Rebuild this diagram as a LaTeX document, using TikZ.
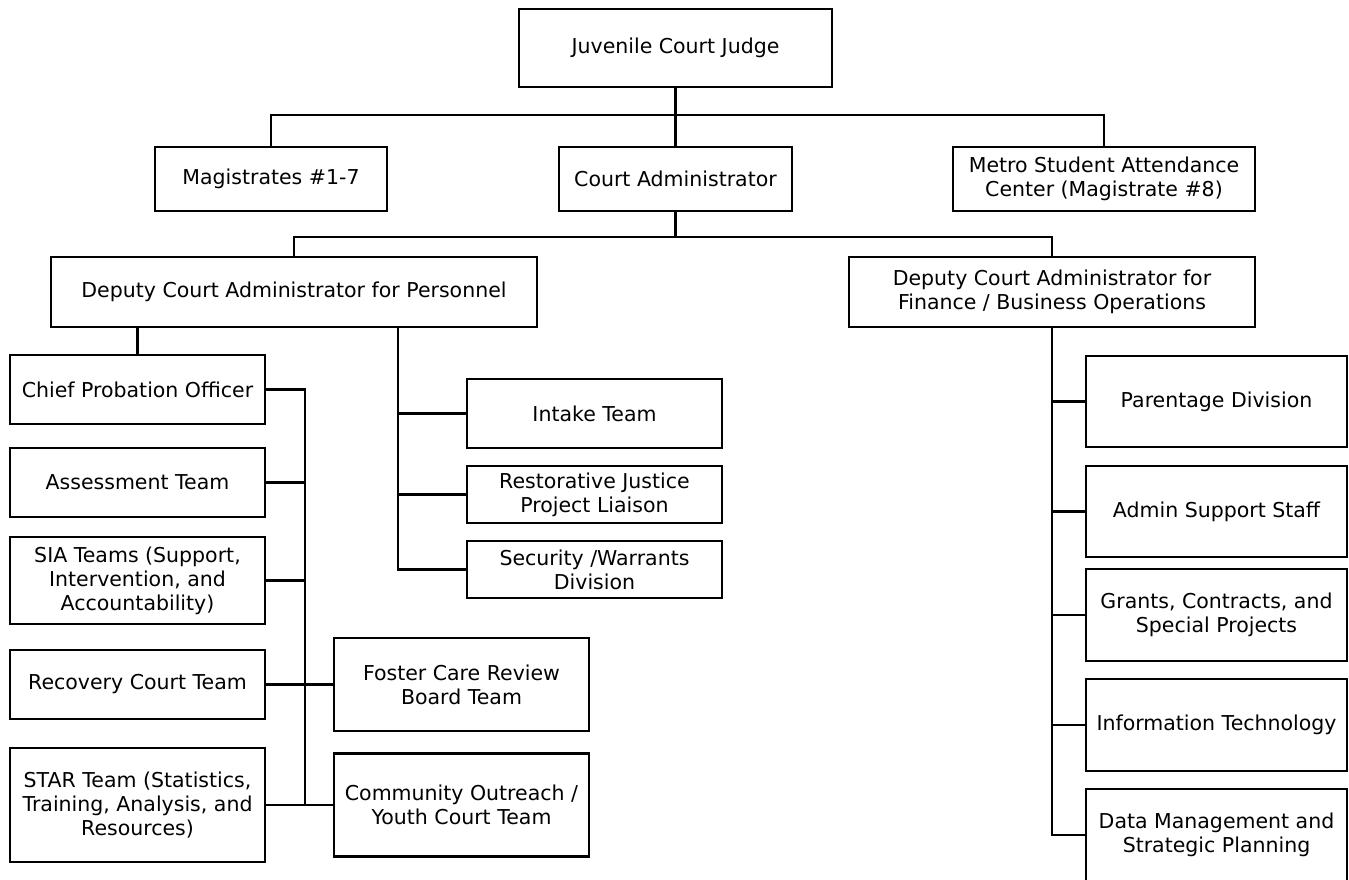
\documentclass[tikz,border=0pt]{standalone}
\usepackage{fontspec}
\setmainfont{DejaVu Sans}
\begin{document}
\begin{tikzpicture}[x=1pt,y=-1pt,
  box/.style={draw=black, line width=2.4pt, fill=white, inner sep=0pt,
    align=center, font=\fontsize{20.5}{24}\selectfont},
  link/.style={draw=black, line width=2.4pt}]
\useasboundingbox (0,0) rectangle (1349,880);

% top level
\node[box, minimum width=313pt, minimum height=78pt] (judge) at (675.5,48) {Juvenile Court Judge};
\node[box, minimum width=232pt, minimum height=64pt] (mag) at (271,179) {Magistrates \#1-7};
\node[box, minimum width=233pt, minimum height=64pt] (cadm) at (675.5,179) {Court Administrator};
\node[box, minimum width=302pt, minimum height=64pt] (metro) at (1104,179) {Metro Student Attendance\\Center (Magistrate \#8)};

% deputies
\node[box, minimum width=486pt, minimum height=70pt] (dpers) at (294,292) {Deputy Court Administrator for Personnel};
\node[box, minimum width=406pt, minimum height=70pt] (dfin) at (1052,292) {Deputy Court Administrator for\\Finance / Business Operations};

% probation column
\node[box, minimum width=255pt, minimum height=69pt] (chief) at (137.5,389.5) {Chief Probation Officer};
\node[box, minimum width=255pt, minimum height=69pt] (assess) at (137.5,482.5) {Assessment Team};
\node[box, minimum width=255pt, minimum height=87pt] (sia) at (137.5,580.5) {SIA Teams (Support,\\Intervention, and\\Accountability)};
\node[box, minimum width=255pt, minimum height=69pt] (recov) at (137.5,684.5) {Recovery Court Team};
\node[box, minimum width=255pt, minimum height=114pt] (star) at (137.5,805) {STAR Team (Statistics,\\Training, Analysis, and\\Resources)};
\node[box, minimum width=255pt, minimum height=93pt] (foster) at (461.5,684.5) {Foster Care Review\\Board Team};
\node[box, minimum width=255pt, minimum height=103pt] (comm) at (461.5,805) {Community Outreach /\\Youth Court Team};

% personnel teams
\node[box, minimum width=255pt, minimum height=69pt] (intake) at (594.5,413.5) {Intake Team};
\node[box, minimum width=255pt, minimum height=57pt] (restor) at (594.5,494.5) {Restorative Justice\\Project Liaison};
\node[box, minimum width=255pt, minimum height=57pt] (secur) at (594.5,569.5) {Security /Warrants\\Division};

% finance teams
\node[box, minimum width=261pt, minimum height=91pt] (parent) at (1216.5,401.5) {Parentage Division};
\node[box, minimum width=261pt, minimum height=91pt] (admsup) at (1216.5,511.5) {Admin Support Staff};
\node[box, minimum width=261pt, minimum height=92pt] (grants) at (1216.5,615) {Grants, Contracts, and\\Special Projects};
\node[box, minimum width=261pt, minimum height=92pt] (infotech) at (1216.5,725) {Information Technology};
\node[box, minimum width=261pt, minimum height=92pt] (datamgmt) at (1216.5,835) {Data Management and\\Strategic Planning};

% junction points
\coordinate (b1) at (675.5,115);
\coordinate (b2) at (675.5,237);
\coordinate (ps) at (398,327);
\coordinate (ls) at (305,390);

% connectors
\draw[link] (judge.south) -- (cadm.north);
\draw[link] (mag.north) |- (b1) -| (metro.north);
\draw[link] (cadm.south) -- (b2);
\draw[link] (dpers.north) |- (b2) -| (dfin.north);

\draw[link] (chief.north) -- (chief.north |- dpers.south);
\draw[link] (ps) |- (secur.west);
\draw[link] (intake.west) -- (intake.west -| ps);
\draw[link] (restor.west) -- (restor.west -| ps);

\draw[link] (chief.east) -| (ls |- star.east) -- (comm.west);
\draw[link] (star.east) -- (ls |- star.east);
\draw[link] (assess.east) -- (assess.east -| ls);
\draw[link] (sia.east) -- (sia.east -| ls);
\draw[link] (recov.east) -- (foster.west);

\draw[link] (dfin.south) |- (datamgmt.west);
\draw[link] (parent.west) -- (parent.west -| dfin.south);
\draw[link] (admsup.west) -- (admsup.west -| dfin.south);
\draw[link] (grants.west) -- (grants.west -| dfin.south);
\draw[link] (infotech.west) -- (infotech.west -| dfin.south);
\end{tikzpicture}
\end{document}
